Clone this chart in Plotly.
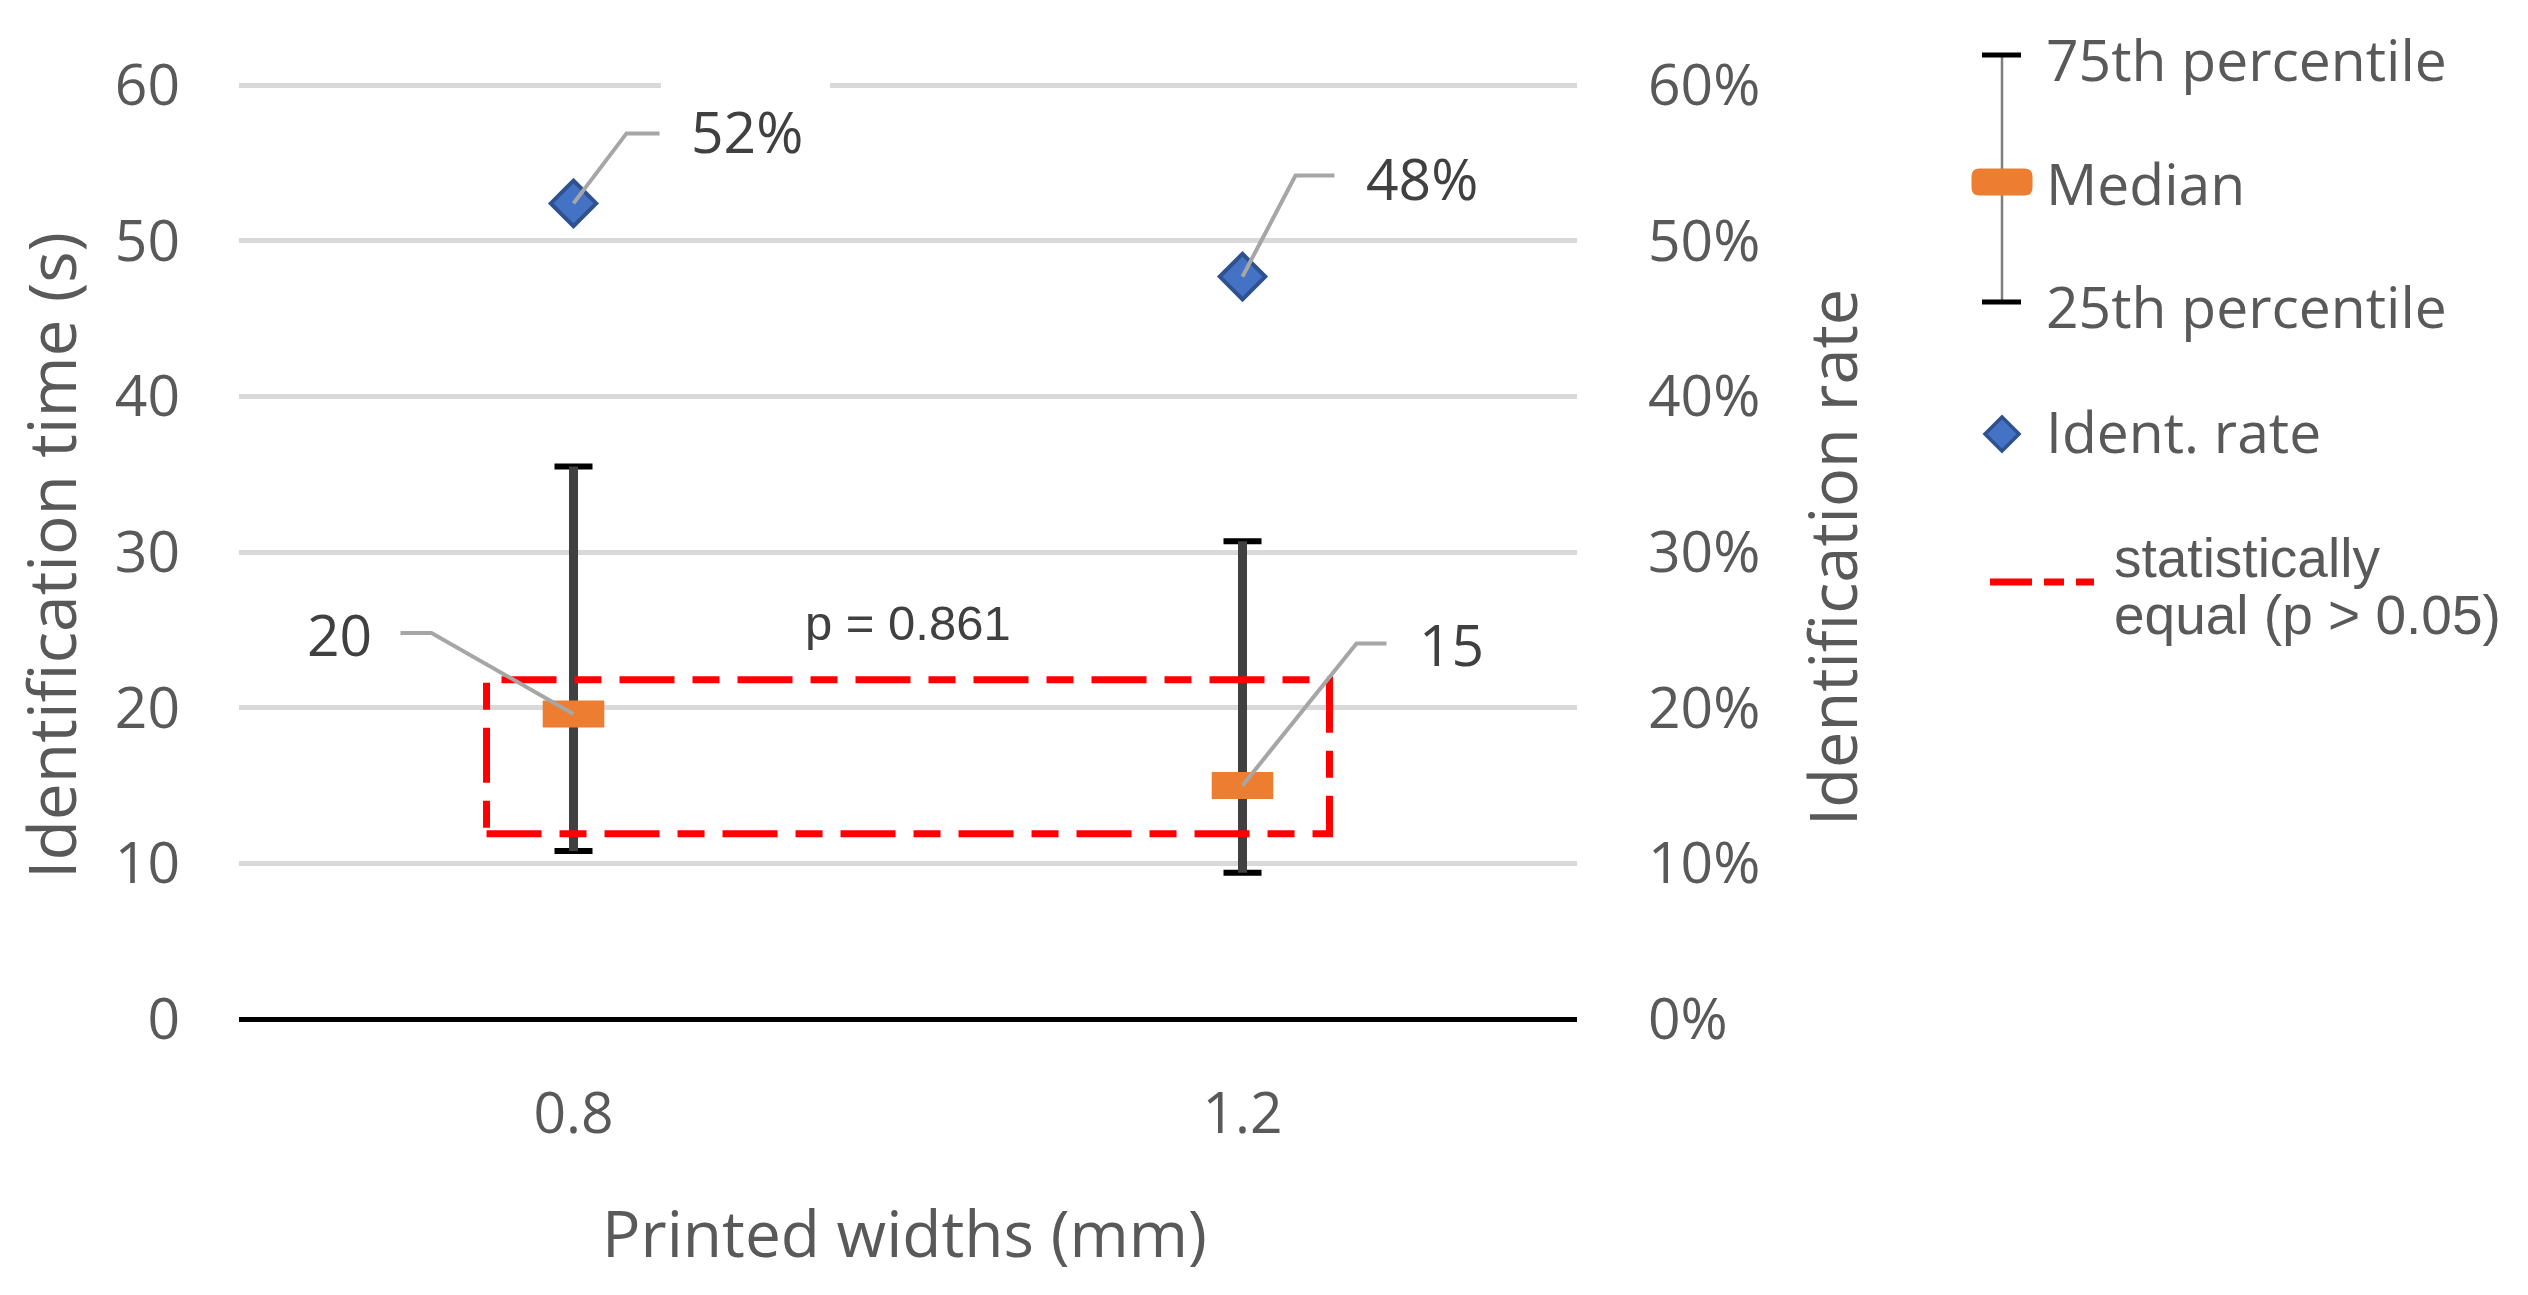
import plotly.graph_objects as go

# values
widths = ["0.8", "1.2"]            # printed widths (mm)
median_time = [19.6, 15.0]         # identification time (s)
p25_time = [10.8, 9.4]
p75_time = [35.5, 30.7]
ident_rate = [0.524, 0.477]        # identification rate
p_value = 0.861
equal_low, equal_high = 11.9, 21.8  # time span of the "statistically equal" box

W, H = 2528, 1295
# plot area in page pixels; the range runs a touch past 60 so the top gridline is kept
L, R, T, B = 239, 1577, 82, 1019
Y_TOP = 60.2


def px(x):
    # page pixel -> paper x
    return (x - L) / (R - L)


def py(y):
    # page pixel -> paper y
    return (B - y) / (B - T)


GREY = "#595959"
DARK = "#404040"
ORANGE = "#ed7d31"
BLUE = "#4472c4"
BLUE_EDGE = "#2f528f"
RED = "#ff0000"
LEADER = "#a6a6a6"
SANS = "Open Sans, Noto Sans, sans-serif"
ARIAL = "Liberation Sans, Arial, sans-serif"

x_idx = list(range(len(widths)))
err_up = [hi - m for hi, m in zip(p75_time, median_time)]
err_down = [m - lo for m, lo in zip(median_time, p25_time)]

fig = go.Figure()

# black caps of the percentile bars
fig.add_trace(go.Scatter(
    x=x_idx, y=median_time, mode="markers",
    marker=dict(size=1, color="rgba(0,0,0,0)"),
    error_y=dict(type="data", symmetric=False, array=err_up, arrayminus=err_down,
                 color="black", thickness=6, width=19),
    hoverinfo="skip", showlegend=False,
))
# dark stem + orange median
fig.add_trace(go.Scatter(
    x=x_idx, y=median_time, mode="markers",
    marker=dict(symbol="line-ew", size=44, line=dict(width=27, color=ORANGE)),
    error_y=dict(type="data", symmetric=False, array=err_up, arrayminus=err_down,
                 color=DARK, thickness=9, width=0),
    showlegend=False,
))
# identification rate on the right axis
fig.add_trace(go.Scatter(
    x=x_idx, y=ident_rate, yaxis="y2", mode="markers",
    marker=dict(symbol="diamond", size=35, color=BLUE, line=dict(width=4, color=BLUE_EDGE)),
    showlegend=False,
))

shapes = []
annotations = []

# gap in the top gridline behind the 52% label
shapes.append(dict(type="rect", xref="paper", yref="paper",
                   x0=px(661), x1=px(830), y0=py(94), y1=py(76),
                   fillcolor="white", line=dict(width=0)))

# statistically-equal box
shapes.append(dict(type="rect", xref="x", yref="y", x0=-0.13, x1=1.13,
                   y0=equal_low, y1=equal_high,
                   line=dict(color=RED, width=7, dash="55px,18px,27px,18px")))
annotations.append(dict(x=0.5, y=equal_high, xref="x", yref="y", yshift=57,
                        text="p = %.3f" % p_value, showarrow=False,
                        font=dict(family=ARIAL, size=49, color=DARK)))

# data labels with elbow leader lines (offsets in pixels from the point)
label_specs = [
    # x, y, axis, text, elbow, end, text shift, anchor
    (0, ident_rate[0], "y2", "{:.0%}".format(ident_rate[0]), (53, 70), (86, 70), (115, 72), "left"),
    (1, ident_rate[1], "y2", "{:.0%}".format(ident_rate[1]), (53, 101), (92, 101), (121, 99), "left"),
    (0, median_time[0], "y", "{:.0f}".format(median_time[0]), (-142, 81), (-173, 81), (-200, 80), "right"),
    (1, median_time[1], "y", "{:.0f}".format(median_time[1]), (114, 142), (144, 142), (174, 142), "left"),
]
for xi, yv, yr, txt, elbow, end, shift, anchor in label_specs:
    shapes.append(dict(type="path", xref="x", yref=yr, xsizemode="pixel", ysizemode="pixel",
                       xanchor=xi, yanchor=yv,
                       path="M0,0 L%d,%d L%d,%d" % (elbow[0], elbow[1], end[0], end[1]),
                       line=dict(color=LEADER, width=4)))
    annotations.append(dict(x=xi, y=yv, xref="x", yref=yr, text=txt, showarrow=False,
                            xanchor=anchor, yanchor="middle", xshift=shift[0], yshift=shift[1],
                            font=dict(family=SANS, size=57, color=DARK)))

# hand-made legend
shapes += [
    dict(type="line", xref="paper", yref="paper", x0=px(2002), x1=px(2002), y0=py(55), y1=py(302),
         line=dict(color="#7f7f7f", width=2.5)),
    dict(type="line", xref="paper", yref="paper", x0=px(1982), x1=px(2021), y0=py(55), y1=py(55),
         line=dict(color="black", width=5)),
    dict(type="line", xref="paper", yref="paper", x0=px(1982), x1=px(2021), y0=py(302), y1=py(302),
         line=dict(color="black", width=5)),
    dict(type="line", xref="paper", yref="paper", x0=px(1990), x1=px(2094), y0=py(582), y1=py(582),
         line=dict(color=RED, width=7, dash="42px,12px,20px,12px")),
]
# rounded median box
cx, cy, hw, hh, r = 2002, 182, 30.5, 13.5, 8
rb = ("M{a},{t} L{b},{t} Q{x1},{t} {x1},{c} L{x1},{d} Q{x1},{bt} {b},{bt} "
      "L{a},{bt} Q{x0},{bt} {x0},{d} L{x0},{c} Q{x0},{t} {a},{t} Z").format(
    a=px(cx - hw + r), b=px(cx + hw - r), x0=px(cx - hw), x1=px(cx + hw),
    t=py(cy - hh), bt=py(cy + hh), c=py(cy - hh + r), d=py(cy + hh - r))
shapes.append(dict(type="path", xref="paper", yref="paper", path=rb,
                   fillcolor=ORANGE, line=dict(width=0)))
# diamond
dx, dy, dr = 2002, 434, 17
dia = "M{l},{m} L{c},{t} L{r},{m} L{c},{b} Z".format(
    l=px(dx - dr), r=px(dx + dr), c=px(dx), m=py(dy), t=py(dy - dr), b=py(dy + dr))
shapes.append(dict(type="path", xref="paper", yref="paper", path=dia,
                   fillcolor=BLUE, line=dict(color=BLUE_EDGE, width=3.5)))

legend_text = [
    ("75th percentile", 2044, 59, SANS, 57),
    ("Median", 2044, 183, SANS, 57),
    ("25th percentile", 2044, 306, SANS, 57),
    ("Ident. rate", 2044, 431, SANS, 57),
    ("statistically", 2112, 558, ARIAL, 55),
    ("equal (p > 0.05)", 2112, 615, ARIAL, 55),
]
for txt, lx, ly, fam, sz in legend_text:
    annotations.append(dict(x=px(lx), y=py(ly), xref="paper", yref="paper", text=txt,
                            showarrow=False, xanchor="left", yanchor="middle",
                            font=dict(family=fam, size=sz, color=GREY)))

# axis titles
annotations += [
    dict(x=px(50), y=py(556), xref="paper", yref="paper", text="Identification time (s)",
         textangle=-90, showarrow=False, xanchor="center", yanchor="middle",
         font=dict(family=SANS, size=66, color=GREY)),
    dict(x=px(1832), y=py(558), xref="paper", yref="paper", text="Identification rate",
         textangle=-90, showarrow=False, xanchor="center", yanchor="middle",
         font=dict(family=SANS, size=65, color=GREY)),
    dict(x=px(904), y=py(1232), xref="paper", yref="paper", text="Printed widths (mm)",
         showarrow=False, xanchor="center", yanchor="middle",
         font=dict(family=SANS, size=64, color=GREY)),
]

tickfont = dict(family=SANS, size=57, color=GREY)
fig.update_layout(
    width=W, height=H,
    margin=dict(l=L, r=W - R, t=T, b=H - B, autoexpand=False),
    plot_bgcolor="white", paper_bgcolor="white",
    showlegend=False,
    shapes=shapes, annotations=annotations,
    xaxis=dict(range=[-0.5, 1.5], tickvals=x_idx, ticktext=widths, showgrid=False,
               zeroline=False, showline=False, ticks="", tickfont=tickfont,
               ticklabelstandoff=56, automargin=False, fixedrange=True),
    yaxis=dict(range=[0, Y_TOP], dtick=10, tick0=0, showgrid=True, gridcolor="#d9d9d9",
               gridwidth=5, zeroline=True, zerolinecolor="black", zerolinewidth=5,
               showline=False, ticks="", tickfont=tickfont, ticklabelstandoff=58,
               automargin=False, fixedrange=True),
    yaxis2=dict(range=[0, Y_TOP / 100], dtick=0.1, tick0=0, tickformat=".0%", overlaying="y",
                side="right", showgrid=False, zeroline=False, showline=False, ticks="",
                tickfont=tickfont, ticklabelstandoff=70, automargin=False, fixedrange=True),
)

fig.write_html("out.html", config={"displayModeBar": False},
               post_script="document.body.style.margin='0';document.body.style.overflow='hidden';")
